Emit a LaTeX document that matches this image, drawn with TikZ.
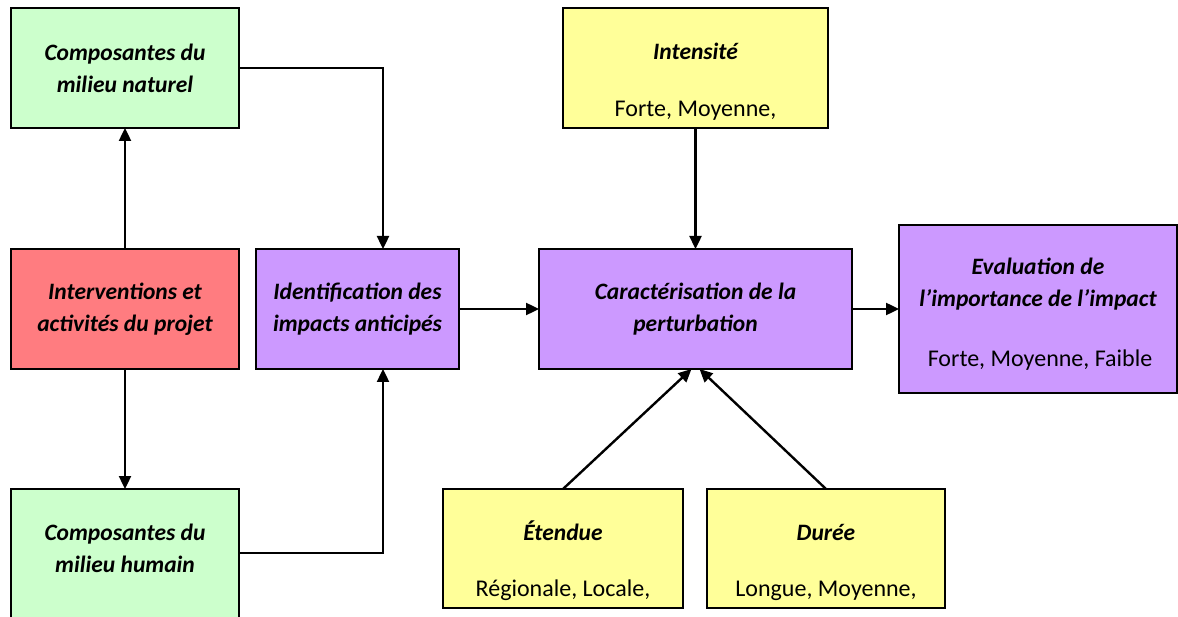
\documentclass[tikz,border=0pt]{standalone}
\usepackage{fontspec}
\setmainfont{Carlito}
\usetikzlibrary{arrows.meta,calc}
\definecolor{cgreen}{HTML}{CCFFCC}
\definecolor{cred}{HTML}{FF7C80}
\definecolor{cpurple}{HTML}{CC99FF}
\definecolor{cyellow}{HTML}{FFFF99}
\begin{document}
\begin{tikzpicture}[x=1pt,y=-1pt,
  box/.style={draw=black, line width=2.2pt, inner sep=0pt, outer sep=0pt, anchor=north west},
  ttl/.style={anchor=base, inner sep=0pt, font=\fontsize{23.5}{28}\selectfont\bfseries\itshape},
  sub/.style={anchor=base, inner sep=0pt, font=\fontsize{24}{28}\selectfont},
  arr/.style={line width=2.4pt, -{Triangle[length=13pt,width=12pt]}},
  ln/.style={line width=2.4pt}]
\useasboundingbox (0,0) rectangle (1178,617);
\clip (0,0) rectangle (1178,617);
% boxes
\node[box, fill=cgreen, minimum width=228pt, minimum height=120pt] (gn) at (11,8) {};
\node[box, fill=cred, minimum width=228pt, minimum height=120pt] (rd) at (11,249) {};
\node[box, fill=cgreen, minimum width=228pt, minimum height=160pt] (gh) at (11,489) {};
\node[box, fill=cpurple, minimum width=203pt, minimum height=120pt] (id) at (256,249) {};
\node[box, fill=cpurple, minimum width=313pt, minimum height=120pt] (car) at (539,249) {};
\node[box, fill=cpurple, minimum width=278pt, minimum height=168pt] (ev) at (899,225) {};
\node[box, fill=cyellow, minimum width=265pt, minimum height=120pt] (int) at (563,8) {};
\node[box, fill=cyellow, minimum width=240pt, minimum height=119pt] (et) at (443,489) {};
\node[box, fill=cyellow, minimum width=238pt, minimum height=119pt] (du) at (707,489) {};
% texts
\node[ttl] (gn1) at (125,61) {Composantes du};
\node[ttl] (gn2) at (125,93) {milieu naturel};
\node[ttl] (rd1) at (125,300) {Interventions et};
\node[ttl] (rd2) at (125,332) {activités du projet};
\node[ttl] (gh1) at (125,540) {Composantes du};
\node[ttl] (gh2) at (125,572) {milieu humain};
\node[ttl] (id1) at (357.5,300) {Identification des};
\node[ttl] (id2) at (357.5,332) {impacts anticipés};
\node[ttl] (car1) at (695.5,300) {Caractérisation de la};
\node[ttl] (car2) at (695.5,332) {perturbation};
\node[ttl] (ev1) at (1038,275) {Evaluation de};
\node[ttl] (ev2) at (1038,307) {l’importance de l’impact};
\node[sub] (ev3) at (1040,367) {Forte, Moyenne, Faible};
\node[ttl] (int1) at (695.5,60) {Intensité};
\node[sub] (int2) at (695.5,117) {Forte, Moyenne,};
\node[ttl] (et1) at (563,540) {Étendue};
\node[sub] (et2) at (563,596) {Régionale, Locale,};
\node[ttl] (du1) at (826,540) {Durée};
\node[sub] (du2) at (826,596) {Longue, Moyenne,};
% connectors
\coordinate (j1) at ($(id.north west)+(127,0)$);
\coordinate (j2) at ($(id.south west)+(127,0)$);
\coordinate (ghE) at (239,553);
\draw[arr] (rd.north) -- (gn.south);
\draw[arr] (rd.south) -- (rd.south |- gh.north);
\draw[arr] (gn.east) -| (j1);
\draw[arr] (ghE) -| (j2);
\draw[arr] (id.east) -- (car.west);
\draw[arr] (car.east) -- (ev.west);
\draw[arr] (int.south) -- (car.north);
\draw[arr] (et.north) -- ($(car.south)+(-4,0)$);
\draw[arr] (du.north) -- ($(car.south)+(4,0)$);
\end{tikzpicture}
\end{document}
